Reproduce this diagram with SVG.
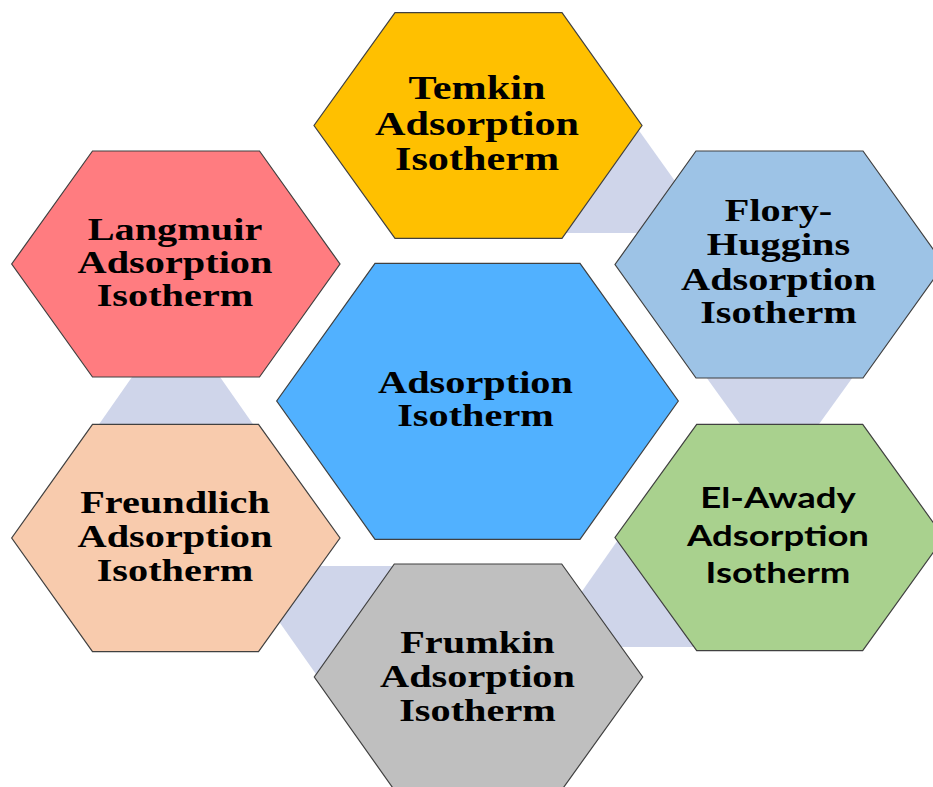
<svg xmlns="http://www.w3.org/2000/svg" width="933" height="787" viewBox="0 0 933 787">
<style>
.hex{stroke:#404040;stroke-width:1.2}
.con{fill:#CFD5EA}
.t{font-family:"Liberation Serif","Times New Roman",serif;font-weight:bold;fill:#000;text-anchor:middle}
.s{font-family:Lato,"Liberation Sans",sans-serif;font-weight:bold;fill:#000;text-anchor:middle}
</style>
<rect width="933" height="787" fill="#fff"/>
<g id="connectors">
<polygon class="con" points="635,125 558,233 712,233"/>
<polygon class="con" points="701,370 858,370 779.5,479"/>
<polygon class="con" points="176,314 95,430 257,430"/>
<polygon class="con" points="240,566 396,566 318,677"/>
<polygon class="con" points="620,537 543,647 697,647"/>
</g>
<g id="temkin">
<polygon class="hex" fill="#FFC000" points="395,12.7 562,12.7 642,125.5 562,238.3 395,238.3 314,125.5"/>
<g transform="translate(477 0) scale(1.26 1)" class="t" font-size="33.5">
<text x="0" y="99">Temkin</text><text x="0" y="135">Adsorption</text><text x="0" y="170">Isotherm</text>
</g>
</g>
<g id="flory">
<polygon class="hex" fill="#9DC3E6" points="696,151 863,151 944,264.5 863,378 696,378 615,264.5"/>
<g transform="translate(778.5 0) scale(1.26 1)" class="t" font-size="32">
<text x="0" y="221.5">Flory-</text><text x="0" y="255">Huggins</text><text x="0" y="290">Adsorption</text><text x="0" y="323.5">Isotherm</text>
</g>
</g>
<g id="langmuir">
<polygon class="hex" fill="#FF7C80" points="92.5,151 259.5,151 340,264 259.5,377 92.5,377 11.7,264"/>
<g transform="translate(175 0) scale(1.26 1)" class="t" font-size="32">
<text x="0" y="240">Langmuir</text><text x="0" y="273.5">Adsorption</text><text x="0" y="306.5">Isotherm</text>
</g>
</g>
<g id="center">
<polygon class="hex" fill="#51B1FF" points="375,263.3 580,263.3 678.3,401 580,539.3 375,539.3 276.7,401"/>
<g transform="translate(475.5 0) scale(1.26 1)" class="t" font-size="32">
<text x="0" y="393.5">Adsorption</text><text x="0" y="426">Isotherm</text>
</g>
</g>
<g id="freundlich">
<polygon class="hex" fill="#F8CBAD" points="92.5,424.3 258.5,424.3 340,538 258.5,651.7 92.5,651.7 11.7,538"/>
<g transform="translate(175 0) scale(1.26 1)" class="t" font-size="32">
<text x="0" y="513.5">Freundlich</text><text x="0" y="547">Adsorption</text><text x="0" y="581.5">Isotherm</text>
</g>
</g>
<g id="frumkin">
<polygon class="hex" fill="#BFBFBF" points="394.3,564 561.7,564 642.7,677 561.7,790 394.3,790 314.3,677"/>
<g transform="translate(477.5 0) scale(1.26 1)" class="t" font-size="32">
<text x="0" y="653.5">Frumkin</text><text x="0" y="687">Adsorption</text><text x="0" y="721">Isotherm</text>
</g>
</g>
<g id="elawady">
<polygon class="hex" fill="#A9D18E" points="696.7,424.3 862.7,424.3 944,537.5 862.7,650.7 696.7,650.7 615,537.5"/>
<g transform="translate(778 0) scale(1.26 1)" class="s" font-size="29">
<text x="0" y="508.5">El-Awady</text><text x="0" y="546">Adsorption</text><text x="0" y="583">Isotherm</text>
</g>
</g>
</svg>
